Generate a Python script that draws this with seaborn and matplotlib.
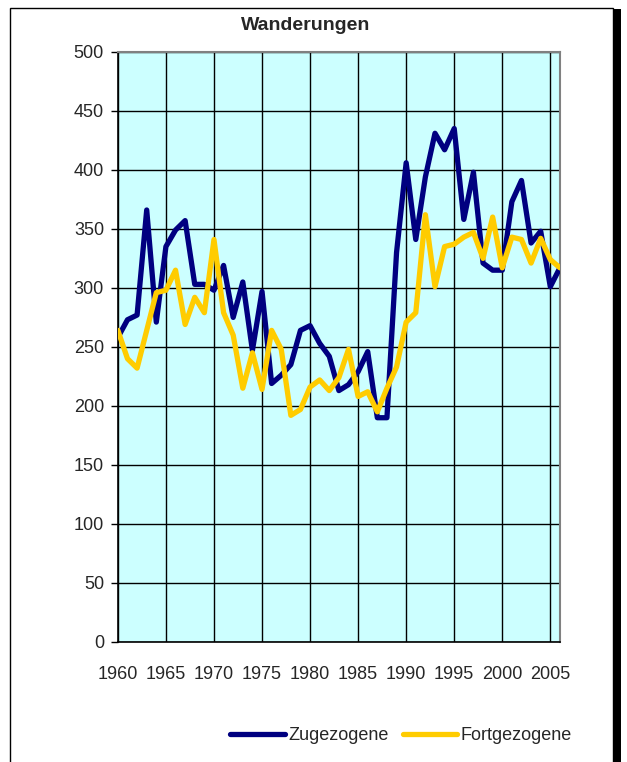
import numpy as np
import pandas as pd
import matplotlib.pyplot as plt
import seaborn as sns
from matplotlib.patches import Rectangle
from matplotlib.lines import Line2D

years = list(range(1960, 2007))
zugezogene = [258, 273, 277, 366, 271, 335, 349, 357, 303, 303,
              298, 319, 275, 305, 247, 297, 219, 226, 235, 264,
              268, 253, 242, 213, 218, 229, 246, 190, 190, 330,
              406, 341, 394, 431, 417, 435, 358, 398, 321, 315,
              315, 373, 391, 338, 348, 301, 317]
fortgezogene = [264, 240, 232, 264, 296, 298, 315, 269, 292, 279,
                341, 279, 260, 215, 245, 214, 264, 248, 192, 197,
                216, 222, 213, 224, 248, 208, 212, 195, 215, 233,
                271, 279, 362, 301, 335, 337, 343, 347, 325, 360,
                317, 343, 341, 321, 342, 324, 317]

df = pd.DataFrame({"Jahr": years, "Zugezogene": zugezogene, "Fortgezogene": fortgezogene})
long = df.melt(id_vars="Jahr", var_name="Serie", value_name="Wert")

sns.set_style("white")
plt.rcParams['font.family'] = ['Liberation Sans', 'DejaVu Sans']

fig = plt.figure(figsize=(6.27, 7.62), dpi=100)
ax = fig.add_axes([0.188, 0.1575, 0.705, 0.7745])
ax.set_facecolor("#CCFFFF")

palette = {"Zugezogene": "#000080", "Fortgezogene": "#FFCC00"}
sns.lineplot(data=long, x="Jahr", y="Wert", hue="Serie", palette=palette,
             linewidth=3.8, ax=ax, legend=False, zorder=3)

ax.set_xlim(1960, 2006)
ax.set_ylim(0, 500)
ax.set_xticks(range(1960, 2006, 5))
ax.set_yticks(range(0, 501, 50))
ax.grid(True, color="black", linewidth=1.0)
ax.set_axisbelow(True)
ax.set_xlabel("")
ax.set_ylabel("")
ax.tick_params(axis="y", length=5, width=1, color="black", labelsize=13, pad=5, left=True)
ax.tick_params(axis="x", length=0, labelsize=13, pad=17)

for side in ["top", "right"]:
    ax.spines[side].set_color("#808080")
    ax.spines[side].set_linewidth(1.5)
for side in ["left", "bottom"]:
    ax.spines[side].set_color("black")
    ax.spines[side].set_linewidth(1.2)

fig.text(0.487, 0.967, "Wanderungen", ha="center", va="center",
         fontsize=14, fontweight="bold")

handles = [Line2D([], [], color=palette["Zugezogene"], linewidth=3.8),
           Line2D([], [], color=palette["Fortgezogene"], linewidth=3.8)]
fig.legend(handles, ["Zugezogene", "Fortgezogene"], loc="center",
           bbox_to_anchor=(0.64, 0.035), ncol=2, frameon=False,
           fontsize=13, handlelength=3.0, handletextpad=0.2, columnspacing=0.8)

fig.patches.append(Rectangle((0.016, -0.01), 0.961, 1.0, transform=fig.transFigure,
                             fill=False, edgecolor="black", linewidth=1.0))
fig.patches.append(Rectangle((0.979, -0.01), 0.011, 0.998, transform=fig.transFigure,
                             facecolor="black", edgecolor="none"))

fig.savefig("out.png", dpi=100)
